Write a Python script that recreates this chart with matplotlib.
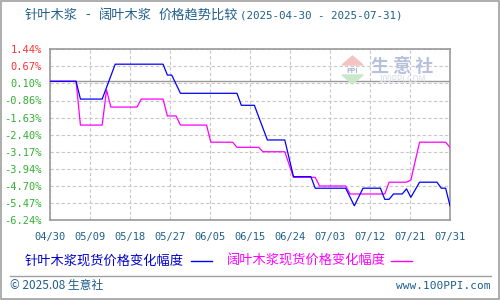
import numpy as np
import matplotlib.pyplot as plt
from matplotlib.patches import Rectangle, Polygon

plt.rcParams['font.family'] = ['Noto Sans CJK SC', 'DejaVu Sans']

# day offset from 2025-04-30 and change in %
soft_days = [0, 6, 7, 12, 13, 14, 20, 21, 26, 27, 29, 30, 36, 37, 42, 43, 48, 49,
             54, 56, 61, 62, 68, 69, 77, 78, 82, 83, 85, 91, 92]
soft_vals = [0, 0, -1.97, -1.97, -0.39, -1.16, -1.16, -0.80, -0.80, -1.56, -1.56,
             -1.97, -1.97, -2.74, -2.74, -2.97, -2.97, -3.17, -3.17, -4.32, -4.32,
             -4.71, -4.71, -5.07, -5.07, -4.54, -4.54, -4.44, -2.74, -2.74, -2.97]

pine_days = [0, 6, 7, 12, 15, 26, 27, 28, 30, 43, 44, 47, 50, 54, 56, 60, 61, 68,
             70, 72, 76, 77, 78, 79, 81, 82, 83, 85, 89, 90, 91, 92]
pine_vals = [0, 0, -0.80, -0.80, 0.77, 0.77, 0.28, 0.28, -0.54, -0.54, -1.08, -1.08,
             -2.64, -2.64, -4.29, -4.29, -4.81, -4.81, -5.60, -4.81, -4.81, -5.31,
             -5.31, -5.07, -5.07, -4.84, -5.22, -4.54, -4.54, -4.81, -4.81, -5.60]

x_labels = ['04/30', '05/09', '05/18', '05/27', '06/05', '06/15', '06/24',
            '07/03', '07/12', '07/21', '07/31']
y_labels = ['1.44%', '0.67%', '0.10%', '-0.86%', '-1.63%', '-2.40%', '-3.17%',
            '-3.94%', '-4.70%', '-5.47%', '-6.24%']

TEXT_BLUE = '#1f5f8b'
GRID = '#c8c8c8'
FRAME = '#999999'

fig = plt.figure(figsize=(5, 3), dpi=100)
fig.patches.append(Rectangle((0.001, 0.002), 0.997, 0.995, transform=fig.transFigure,
                             fill=False, edgecolor='#a0a0a0', lw=1.2))

ax = fig.add_axes([0.1, 0.2667, 0.8, 0.569])
yt = np.linspace(1.44, -6.24, 11)
xt = np.linspace(0, 92, 11)
ax.set_xlim(0, 92)
ax.set_ylim(-6.24, 1.44)
ax.set_xticks(xt)
ax.set_xticklabels(x_labels)
ax.set_yticks(yt)
ax.set_yticklabels(y_labels)
ax.tick_params(axis='y', length=0, pad=6)
ax.tick_params(axis='x', length=0, pad=9)
for lbl in ax.get_xticklabels():
    lbl.set_family('DejaVu Sans Mono')
    lbl.set_fontsize(7.5)
    lbl.set_color(TEXT_BLUE)
for lbl, v in zip(ax.get_yticklabels(), yt):
    lbl.set_family('DejaVu Sans Mono')
    lbl.set_fontsize(7.5)
    lbl.set_color('#ff3333' if v > 0 else '#33b033')
ax.grid(True, ls=(0, (3, 2)), color=GRID, lw=0.8)
ax.axhline(0, color=FRAME, lw=1.0)
for s in ax.spines.values():
    s.set_color(FRAME)
    s.set_linewidth(1.2)

ax.plot(pine_days, pine_vals, color='#0000ff', lw=0.9, zorder=4)
ax.plot(soft_days, soft_vals, color='#ff00ff', lw=0.9, zorder=3)

# watermark
fig.patches.append(Polygon([[342 / 500, 1 - 65 / 300], [363 / 500, 1 - 65 / 300],
                            [352.5 / 500, 1 - 56 / 300]], closed=True,
                           transform=fig.transFigure, color='#f4c4c4', zorder=5))
fig.patches.append(Polygon([[342 / 500, 1 - 75 / 300], [363 / 500, 1 - 75 / 300],
                            [352.5 / 500, 1 - 84 / 300]], closed=True,
                           transform=fig.transFigure, color='#c8e8c8', zorder=5))
fig.text(352.5 / 500, 1 - 70 / 300, 'PPI', color='#a8b0d0', fontsize=5,
         ha='center', va='center', weight='bold', zorder=6)
fig.text(402 / 500, 1 - 66 / 300, '生 意 社', color='#b8c0dc', fontsize=13,
         ha='center', va='center', weight='bold', zorder=6)
fig.text(402 / 500, 1 - 80 / 300, '100PPI.COM', color='#d8dce8', fontsize=6,
         ha='center', va='center', zorder=6)

# title, placed piece by piece to keep the wide spacing
for txt, xpx in [('针叶木浆', 25), ('-', 85), ('阔叶木浆', 99), ('价格趋势比较', 159)]:
    fig.text(xpx / 500, 1 - 15 / 300, txt, color=TEXT_BLUE, fontsize=9.5,
             ha='left', va='center')
fig.text(403 / 500, 1 - 15 / 300, '(2025-04-30 - 2025-07-31)',
         color=TEXT_BLUE, fontsize=7.8, ha='right', va='center',
         family='DejaVu Sans Mono')

# legend row
fig.text(25 / 500, 1 - 261 / 300, '针叶木浆现货价格变化幅度', color='#0000cc',
         fontsize=9.5, ha='left', va='center')
fig.add_artist(plt.Line2D([191 / 500, 212 / 500], [1 - 261 / 300] * 2,
                          color='#0000ff', lw=1, transform=fig.transFigure))
fig.text(227 / 500, 1 - 261 / 300, '阔叶木浆现货价格变化幅度', color='#ff00ff',
         fontsize=9.5, ha='left', va='center')
fig.add_artist(plt.Line2D([391 / 500, 412 / 500], [1 - 261 / 300] * 2,
                          color='#ff00ff', lw=1, transform=fig.transFigure))

# footer
fig.add_artist(plt.Line2D([10 / 500, 491 / 500], [1 - 276 / 300] * 2,
                          color='#a0a0a0', lw=1, transform=fig.transFigure))
fig.text(10 / 500, 1 - 286 / 300, '© 2025.08 生意社', color=TEXT_BLUE,
         fontsize=8.5, ha='left', va='center')
fig.text(490 / 500, 1 - 286 / 300, 'www.100PPI.com', color=TEXT_BLUE,
         fontsize=8, ha='right', va='center', family='DejaVu Sans Mono')

fig.savefig('out.png', dpi=100)
